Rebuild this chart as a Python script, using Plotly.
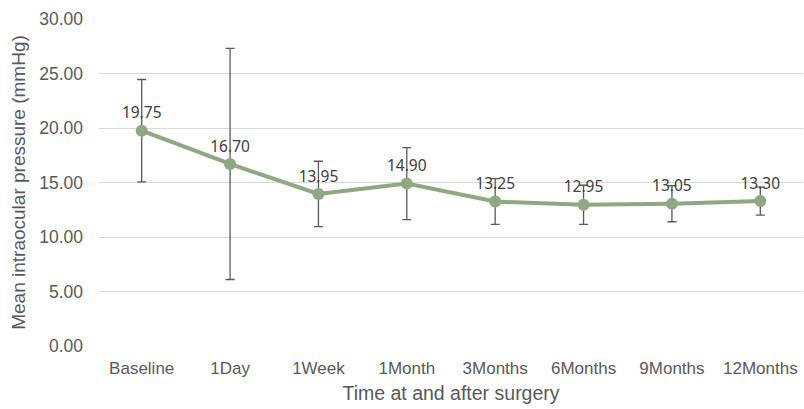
import plotly.graph_objects as go

categories = ["Baseline", "1Day", "1Week", "1Month", "3Months", "6Months", "9Months", "12Months"]
mean_iop = [19.75, 16.70, 13.95, 14.90, 13.25, 12.95, 13.05, 13.30]
sd_iop = [4.7, 10.6, 3.0, 3.3, 2.1, 1.8, 1.65, 1.3]
y_ticks = [0, 5, 10, 15, 20, 25, 30]

fig = go.Figure()
fig.add_trace(go.Scatter(
    x=categories, y=mean_iop,
    mode="lines+markers+text",
    line=dict(color="#8EA882", width=4),
    marker=dict(color="#8EA882", size=12),
    text=[f"{v:.2f}" for v in mean_iop],
    textposition="top center",
    textfont=dict(family="Noto Sans, Liberation Sans", size=15.5, color="#404040"),
    error_y=dict(type="data", array=sd_iop, visible=True, color="#595959", thickness=1.3, width=4.5),
    cliponaxis=False,
    showlegend=False,
))

fig.update_layout(
    width=804, height=409,
    margin=dict(l=99, r=1, t=19, b=63, autoexpand=False),
    paper_bgcolor="white", plot_bgcolor="white",
    font=dict(family="Liberation Sans, Arial", color="#595959"),
    xaxis=dict(
        showgrid=False, showline=False, zeroline=False, automargin=False,
        tickfont=dict(size=17, color="#595959"),
        ticks="", ticklabelstandoff=10,
        title=dict(text="Time at and after surgery", font=dict(size=19.5, color="#595959"), standoff=9),
    ),
    yaxis=dict(
        range=[0, 30], tickvals=y_ticks, ticktext=[f"{t:.2f}" for t in y_ticks],
        showgrid=True, gridcolor="#D9D9D9", gridwidth=1.3, automargin=False,
        zeroline=False, showline=False, ticks="",
        tickfont=dict(size=17.5, color="#595959"), ticklabelstandoff=15,
        title=dict(text="Mean intraocular pressure (mmHg)", font=dict(size=19, color="#595959"), standoff=8),
    ),
)

fig.write_html("out.html", config={"displayModeBar": False},
               post_script="document.body.style.margin='0';")
